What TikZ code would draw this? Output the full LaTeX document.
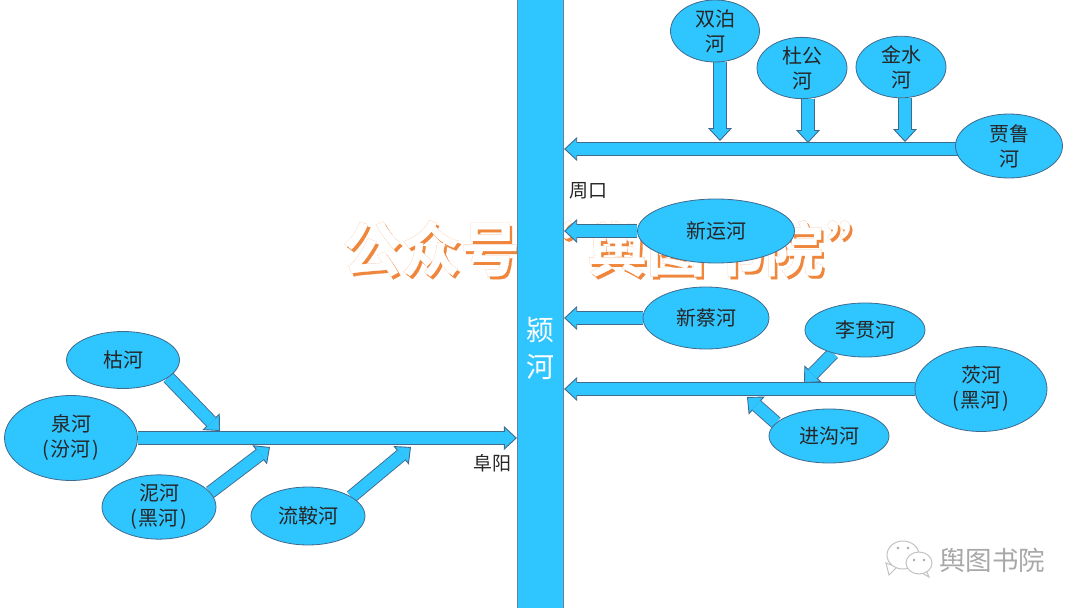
\documentclass[tikz,border=0pt]{standalone}
\usepackage{fontspec}
\setmainfont{Noto Sans CJK SC}
\newfontfamily\wmfont[FakeBold=0.5]{Noto Sans CJK SC Bold}
\newfontfamily\wmfat[FakeBold=0.9]{Noto Sans CJK SC Bold}
\usepackage{xcolor}
\usetikzlibrary{arrows.meta, positioning, calc, backgrounds, shapes.geometric}
\definecolor{riverBlue}{HTML}{2FC5FF}
\definecolor{riverEdge}{HTML}{3F6A8C}
\definecolor{trunkEdge}{HTML}{66809E}
\definecolor{wmOrange}{HTML}{F0863C}
\definecolor{wmLight}{HTML}{F5A873}
\definecolor{logoGray}{HTML}{A8A8A8}
\newcommand{\wmword}{公众号\kern-6pt“\kern15pt舆图书院\kern3pt”}
\newcommand{\wmstack}{%
  \rlap{\kern2.5pt\raisebox{-3pt}{\color{wmOrange}\wmfont\wmword}}%
  \rlap{\color{wmLight}\wmfat\wmword}%
  {\color{white}\wmfont\wmword}}

\begin{document}
\begin{tikzpicture}[x=1pt, y=-1pt,
  river/.style={ellipse, draw=riverEdge, fill=riverBlue, inner sep=0pt, align=center,
                line width=0.8pt, font=\fontsize{20}{25}\selectfont, text=black!85},
  flow/.style={draw=riverEdge, line width=13.5pt,
               -{Triangle[length=13pt, width=24pt, line width=0.9pt, fill=riverBlue]},
               postaction={draw=riverBlue, line width=11.7pt, -, shorten >=12pt}},
  trunk/.style={draw=trunkEdge, fill=riverBlue, inner sep=0pt, line width=0.8pt,
                minimum width=46.5pt, minimum height=612pt},
  place/.style={font=\fontsize{19}{22}\selectfont, text=black!85},
  bubble/.style={draw=logoGray!70, fill=white, line width=1pt},
]
\useasboundingbox (0,0) rectangle (1080,608);

% --- main stream ---
\node[trunk] (yinghe) at (540.5,304) {};
\node[font=\fontsize{28}{37}\selectfont, text=white, align=center] (yinghetxt) at (540,348) {颍\\河};
\node[place] (zhoukou) at (588,191) {周口};
\node[place] (fuyang)  at (492,463) {阜阳};

% --- right bank, upper ---
\node[river, minimum width=89pt, minimum height=62pt] (shuangbo) at (715,31) {双泊\\河};
\node[river, minimum width=90pt, minimum height=61pt] (dugong)   at (802,68) {杜公\\河};
\node[river, minimum width=90pt, minimum height=61pt] (jinshui)  at (901,67) {金水\\河};
\node[river, minimum width=107pt, minimum height=64pt] (jialu)   at (1009,146) {贾鲁\\河};
\node[river, minimum width=157pt, minimum height=64pt] (xinyun)  at (716,231) {新运河};
\node[river, minimum width=126pt, minimum height=62pt] (xincai)  at (706,318) {新蔡河};

% --- right bank, lower ---
\node[river, minimum width=120pt, minimum height=54pt] (ligan)  at (865,330) {李贯河};
\node[river, minimum width=132pt, minimum height=85pt] (cihe)   at (981,389) {茨河\\(\kern2pt黑河\kern2pt)};
\node[river, minimum width=120pt, minimum height=54pt] (jingou) at (829,436) {进沟河};

% --- left bank ---
\node[river, minimum width=113pt, minimum height=57pt] (kuhe)   at (123,360) {枯河};
\node[river, minimum width=133pt, minimum height=85pt] (quanhe) at (71,438)  {泉河\\(\kern2pt汾河\kern2pt)};
\node[river, minimum width=114pt, minimum height=58pt] (nihe)   at (159,507) {泥河\\(\kern2pt黑河\kern2pt)};
\node[river, minimum width=114pt, minimum height=58pt] (liuan)  at (308,516) {流鞍河};

% --- where the side streams meet a branch ---
\coordinate (jialumouth)  at (jialu.center |- 0,149);
\coordinate (tipshuangbo) at (720,141);
\coordinate (tipdugong)   at (808,143);
\coordinate (tipjinshui)  at (905,142);
\coordinate (tipligan)    at (804,383);
\coordinate (tipjingou)   at (747,397);
\coordinate (tipku)       at (220,431);
\coordinate (tipni)       at (270,447);
\coordinate (tipliuan)    at (411,447);

\begin{scope}[on background layer]
  % --- watermark, under everything ---
  \node[font=\fontsize{59}{62}\selectfont, inner sep=0pt] (mark) at (614,250) {\wmstack};

  % --- branches into the main stream ---
  \draw[flow] (jialumouth) -- (jialumouth -| yinghe.east);
  \draw[flow] (xinyun) -- (xinyun -| yinghe.east);
  \draw[flow] (xincai) -- (xincai -| yinghe.east);
  \draw[flow] (cihe) -- (cihe -| yinghe.east);
  \draw[flow] (quanhe) -- (quanhe -| yinghe.west);

  % --- side streams ---
  \draw[flow] (shuangbo.south -| tipshuangbo) -- (tipshuangbo);
  \draw[flow] (dugong.south -| tipdugong) -- (tipdugong);
  \draw[flow] (jinshui.south -| tipjinshui) -- (tipjinshui);
  \draw[flow] (ligan.-144) -- (tipligan);
  \draw[flow] (jingou.166) -- (tipjingou);
  \draw[flow] (kuhe.-21) -- (tipku);
  \draw[flow] (nihe.16) -- (tipni);
  \draw[flow] (liuan.24) -- (tipliuan);
\end{scope}

% --- logo, bottom right ---
\draw[bubble] (886,563) -- (889,575) -- (897,567) -- cycle;
\draw[bubble] (903,555) ellipse [x radius=16, y radius=14];
\draw[bubble] (926,570) -- (929,577) -- (922,573) -- cycle;
\draw[bubble] (919,563) ellipse [x radius=13, y radius=11];
\fill[logoGray] (898,548) circle (1.3) (908,548) circle (1.3) (914,560) circle (1.3) (924,560) circle (1.3);
\node[font=\fontsize{26.5}{30}\selectfont, text=logoGray] (logo) at (992,560) {舆图书院};
\end{tikzpicture}
\end{document}
